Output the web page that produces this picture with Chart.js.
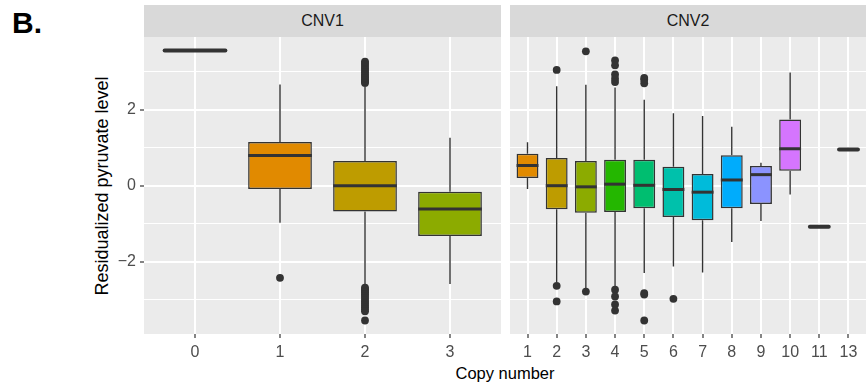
<!DOCTYPE html>
<html>
<head>
<meta charset="utf-8">
<script src="https://cdn.jsdelivr.net/npm/chart.js@4/dist/chart.umd.min.js"></script>
<style>
  body { margin: 0; width: 866px; height: 388px; position: relative; overflow: hidden; background: #fff;
         font-family: "Liberation Sans", Arial, Helvetica, sans-serif; }
  .abs { position: absolute; }
  .strip { top: 5px; height: 32px; line-height: 32px; background: #D9D9D9; color: #1A1A1A;
           font-size: 16px; text-align: center; }
</style>
</head>
<body>
<div class="abs" style="left:12px;top:8px;font-size:30px;line-height:30px;font-weight:bold;">B.</div>
<div class="abs strip" style="left:144px;width:357px;">CNV1</div>
<div class="abs strip" style="left:510px;width:356px;">CNV2</div>
<div class="abs" style="left:-48px;top:176px;width:300px;height:20px;line-height:20px;font-size:18px;text-align:center;transform:rotate(-90deg);">Residualized pyruvate level</div>
<div class="abs" style="left:144px;top:364px;width:722px;line-height:19px;font-size:16.5px;text-align:center;">Copy number</div>
<canvas id="cnv1" class="abs" style="left:0;top:0;" width="502" height="388"></canvas>
<canvas id="cnv2" class="abs" style="left:510px;top:0;" width="356" height="388"></canvas>
<script>
// y axis
const yTicks = [-2, 0, 2];
const yMinor = [-3, -1, 1, 3];
const yMin = -3.895, yMax = 3.905;

// CNV1 panel
const cnv1Cats = ['0', '1', '2', '3'];
const cnv1Lo  = [3.55, -0.97, -2.64, -2.58];
const cnv1Q1  = [3.55, -0.09, -0.68, -1.32];
const cnv1Med = [3.55, 0.79, 0.00, -0.61];
const cnv1Q3  = [3.55, 1.15, 0.65, -0.16];
const cnv1Hi  = [3.55, 2.66, 2.68, 1.26];
const cnv1Out = [
  [],
  [-2.42],
  [2.70, 2.73, 2.76, 2.80, 2.84, 2.88, 2.92, 2.97, 3.02, 3.07, 3.12, 3.17, 3.22, 3.26,
   -2.68, -2.72, -2.76, -2.80, -2.85, -2.90, -2.95, -3.00, -3.05, -3.10, -3.15, -3.20, -3.25, -3.30, -3.54],
  []
];
const cnv1Fill = ['#F8766D', '#E18A00', '#BE9C00', '#8CAB00'];

// CNV2 panel
const cnv2Cats = ['1', '2', '3', '4', '5', '6', '7', '8', '9', '10', '11', '13'];
const cnv2Lo  = [-0.09, -2.54, -2.70, -2.66, -2.29, -2.12, -2.28, -1.48, -0.93, -0.23, -1.08, 0.95];
const cnv2Q1  = [0.20, -0.62, -0.71, -0.69, -0.59, -0.82, -0.91, -0.59, -0.48, 0.39, -1.08, 0.95];
const cnv2Med = [0.53, 0.00, -0.03, 0.04, 0.01, -0.10, -0.17, 0.15, 0.29, 0.97, -1.08, 0.95];
const cnv2Q3  = [0.84, 0.73, 0.65, 0.68, 0.68, 0.50, 0.31, 0.80, 0.52, 1.74, -1.08, 0.95];
const cnv2Hi  = [1.14, 2.61, 2.65, 2.58, 2.26, 1.90, 1.83, 1.55, 0.60, 2.97, -1.08, 0.95];
const cnv2Out = [
  [],
  [3.04, -2.63, -3.04],
  [3.53, -2.78],
  [3.29, 3.16, 2.92, 2.81, 2.72, -2.73, -2.91, -3.12, -3.28],
  [2.83, 2.78, 2.69, -2.82, -2.86, -3.54],
  [-2.97],
  [], [], [], [], [], []
];
const cnv2Fill = ['#E18A00', '#BE9C00', '#8CAB00', '#24B700', '#00BE70', '#00C1AB',
                  '#00BBDA', '#00ACFC', '#8B93FF', '#D575FE', '#F962DD', '#FF65AC'];

Chart.defaults.font.family = '"Liberation Sans", Arial, Helvetica, sans-serif';

// whiskers go under the boxes, medians on top
function boxPlugin(lo, q1, med, q3, hi) {
  return {
    id: 'boxWhiskers',
    beforeDatasetsDraw(chart) {
      const ctx = chart.ctx, x = chart.scales.x, y = chart.scales.y;
      ctx.save();
      ctx.strokeStyle = '#333333';
      ctx.lineWidth = 1.4;
      lo.forEach(function (v, i) {
        const px = x.getPixelForValue(i);
        ctx.beginPath();
        ctx.moveTo(px, y.getPixelForValue(v));
        ctx.lineTo(px, y.getPixelForValue(q1[i]));
        ctx.moveTo(px, y.getPixelForValue(q3[i]));
        ctx.lineTo(px, y.getPixelForValue(hi[i]));
        ctx.stroke();
      });
      ctx.restore();
    },
    afterDatasetsDraw(chart) {
      const ctx = chart.ctx, y = chart.scales.y;
      const bars = chart.getDatasetMeta(0).data;
      ctx.save();
      ctx.strokeStyle = '#333333';
      med.forEach(function (v, i) {
        const b = bars[i];
        const py = y.getPixelForValue(v);
        const flat = q1[i] === q3[i];
        ctx.lineWidth = flat ? 4 : 3;
        ctx.lineCap = flat ? 'round' : 'butt';
        ctx.beginPath();
        ctx.moveTo(b.x - b.width / 2 + (flat ? 1.5 : 0), py);
        ctx.lineTo(b.x + b.width / 2 - (flat ? 1.5 : 0), py);
        ctx.stroke();
      });
      ctx.restore();
    }
  };
}

function panel(id, cats, lo, q1, med, q3, hi, outs, fills, showY) {
  const isMajor = (v) => yTicks.includes(v);
  new Chart(document.getElementById(id), {
    type: 'bar',
    data: {
      datasets: [{
        data: cats.map((c, i) => ({ x: i, y: [q1[i], q3[i]] })),
        backgroundColor: fills,
        borderColor: '#333333',
        borderWidth: 1.5,
        borderSkipped: false,
        categoryPercentage: 1,
        barPercentage: 0.75
      }, {
        type: 'line',
        data: outs.flatMap((arr, i) => arr.map(v => ({ x: i, y: v }))),
        showLine: false,
        pointRadius: 3.9,
        pointHoverRadius: 3.9,
        pointBorderWidth: 0,
        pointBackgroundColor: '#333333'
      }]
    },
    options: {
      responsive: false,
      animation: false,
      events: [],
      layout: { autoPadding: false, padding: { top: 37, right: showY ? 1 : 0, bottom: 0, left: 0 } },
      plugins: { legend: { display: false }, tooltip: { enabled: false } },
      scales: {
        x: {
          type: 'linear',
          offset: false,
          min: -0.6,
          max: cats.length - 0.4,
          afterBuildTicks: (s) => { s.ticks = cats.map((c, i) => ({ value: i })); },
          afterFit: (s) => { s.height = 54; },
          border: { display: false },
          grid: { offset: false, color: '#FFFFFF', lineWidth: 2, tickColor: '#333333', tickWidth: 1.2, tickLength: 4 },
          ticks: { autoSkip: false, maxRotation: 0, padding: 5, color: '#4D4D4D', font: { size: 16 },
                   callback: (v) => cats[v] }
        },
        y: {
          min: yMin,
          max: yMax,
          afterBuildTicks: (s) => { s.ticks = yMinor.concat(yTicks).sort((a, b) => a - b).map(v => ({ value: v })); },
          afterFit: (s) => { s.width = showY ? 144 : 0; },
          border: { display: false },
          grid: {
            color: '#FFFFFF',
            lineWidth: (c) => isMajor(c.tick.value) ? 2 : 1.1,
            drawTicks: showY,
            tickLength: 4,
            tickWidth: 1.2,
            tickColor: (c) => isMajor(c.tick.value) ? '#333333' : 'rgba(0,0,0,0)'
          },
          ticks: {
            display: showY,
            padding: 4,
            color: '#4D4D4D',
            font: { size: 16 },
            callback: (v) => isMajor(v) ? (v < 0 ? '\u2212' + (-v) : String(v)) : ''
          }
        }
      }
    },
    plugins: [
      {
        id: 'panelBg',
        beforeDraw(chart) {
          const a = chart.chartArea;
          chart.ctx.save();
          chart.ctx.fillStyle = '#EBEBEB';
          chart.ctx.fillRect(a.left, a.top, a.right - a.left, a.bottom - a.top);
          chart.ctx.restore();
        }
      },
      boxPlugin(lo, q1, med, q3, hi)
    ]
  });
}

panel('cnv1', cnv1Cats, cnv1Lo, cnv1Q1, cnv1Med, cnv1Q3, cnv1Hi, cnv1Out, cnv1Fill, true);
panel('cnv2', cnv2Cats, cnv2Lo, cnv2Q1, cnv2Med, cnv2Q3, cnv2Hi, cnv2Out, cnv2Fill, false);
</script>
</body>
</html>
